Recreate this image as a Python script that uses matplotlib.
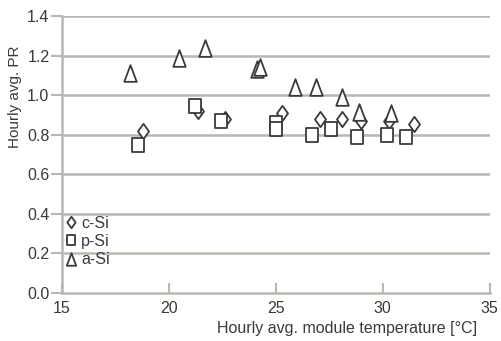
import matplotlib
matplotlib.use("Agg")
import matplotlib.pyplot as plt
from matplotlib.path import Path

plt.rcParams['font.family'] = ['Liberation Sans', 'DejaVu Sans']

csi_x = [18.8, 21.35, 22.6, 25.3, 27.05, 28.1, 29.0, 30.3, 31.45]
csi_y = [0.82, 0.92, 0.88, 0.91, 0.88, 0.88, 0.87, 0.87, 0.855]

psi_x = [18.55, 21.2, 22.45, 25.0, 25.0, 26.7, 27.6, 28.8, 30.2, 31.1]
psi_y = [0.75, 0.945, 0.87, 0.86, 0.83, 0.80, 0.83, 0.79, 0.80, 0.79]

asi_x = [18.2, 20.45, 21.7, 24.1, 24.25, 25.9, 26.9, 28.1, 28.9, 30.4]
asi_y = [1.11, 1.19, 1.24, 1.13, 1.14, 1.04, 1.04, 0.99, 0.915, 0.91]

xticks = [15, 20, 25, 30, 35]
yticks = [0.0, 0.2, 0.4, 0.6, 0.8, 1.0, 1.2, 1.4]

grid_c = '#bdb6ae'
text_c = '#3a3a3a'
edge_c = '#3a3a3a'

diamond = Path([(0, 1), (0.72, 0), (0, -1), (-0.72, 0), (0, 1)],
               [Path.MOVETO, Path.LINETO, Path.LINETO, Path.LINETO, Path.CLOSEPOLY])
rect = Path([(-0.8, -1), (0.8, -1), (0.8, 1), (-0.8, 1), (-0.8, -1)],
            [Path.MOVETO, Path.LINETO, Path.LINETO, Path.LINETO, Path.CLOSEPOLY])
tri = Path([(0, 1), (0.75, -1), (-0.75, -1), (0, 1)],
           [Path.MOVETO, Path.LINETO, Path.LINETO, Path.CLOSEPOLY])

fig = plt.figure(figsize=(5.02, 3.41), dpi=100)
ax = fig.add_axes([0.1235, 0.141, 0.852, 0.812])

ax.set_xlim(15, 35)
ax.set_ylim(0, 1.4)
ax.set_xticks(xticks)
ax.set_yticks(yticks)
ax.set_yticklabels([f"{v:.1f}" for v in yticks])

for v in yticks[1:]:
    ax.axhline(v, color=grid_c, lw=1.8, zorder=1)

ax.plot(csi_x, csi_y, linestyle='none', marker=diamond, ms=11, mfc='white',
        mec=edge_c, mew=1.3, label='c-Si', zorder=3)
ax.plot(psi_x, psi_y, linestyle='none', marker=rect, ms=10.5, mfc='white',
        mec=edge_c, mew=1.3, label='p-Si', zorder=3)
ax.plot(asi_x, asi_y, linestyle='none', marker=tri, ms=12, mfc='white',
        mec=edge_c, mew=1.3, label='a-Si', zorder=4)

for s in ['top', 'right']:
    ax.spines[s].set_visible(False)
for s in ['left', 'bottom']:
    ax.spines[s].set_color(grid_c)
    ax.spines[s].set_linewidth(1.8)

ax.tick_params(axis='y', direction='out', length=8, width=1.5, color=grid_c,
               labelsize=11.5, labelcolor=text_c, pad=1)
ax.tick_params(axis='x', direction='in', length=7, width=1.5, color=grid_c,
               labelsize=11.5, labelcolor=text_c, pad=6)

ax.set_xlabel('Hourly avg. module temperature [°C]', fontsize=11.5, color=text_c)
ax.xaxis.set_label_coords(0.97, -0.1, transform=ax.transAxes)
ax.xaxis.label.set_horizontalalignment('right')
ax.set_ylabel('Hourly avg. PR', fontsize=11, color=text_c)
ax.yaxis.set_label_coords(-0.093, 0.71)

leg = ax.legend(loc='lower left', bbox_to_anchor=(-0.005, 0.07), frameon=False,
                fontsize=11.5, handlelength=0.6, handletextpad=0.35,
                labelspacing=0.2, borderaxespad=0, labelcolor=text_c,
                markerscale=0.75)

fig.savefig('out.png', dpi=100)
